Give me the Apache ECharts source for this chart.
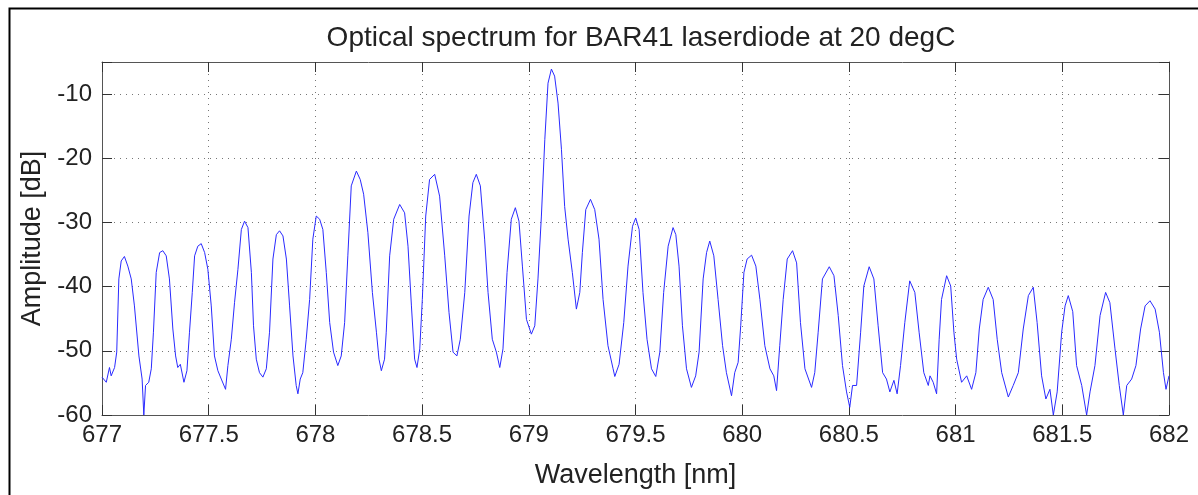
<!DOCTYPE html>
<html>
<head>
<meta charset="utf-8">
<title>Optical spectrum</title>
<script src="https://cdn.jsdelivr.net/npm/echarts@6/dist/echarts.min.js"></script>
<style>
  html, body { margin: 0; padding: 0; background: #fff; }
  #spectrumChart { width: 1198px; height: 495px; }
</style>
</head>
<body>
<div id="spectrumChart"></div>
<script>
// wavelength [nm]
var wavelength = [
  677.000,677.020,677.035,677.043,677.059,677.069,677.079,677.090,677.105,677.121,
  677.137,677.152,677.173,677.188,677.196,677.204,677.219,677.231,677.241,677.254,
  677.270,677.285,677.301,677.316,677.332,677.345,677.355,677.367,677.384,677.398,
  677.410,677.423,677.434,677.449,677.465,677.481,677.496,677.512,677.527,677.543,
  677.559,677.579,677.590,677.606,677.621,677.637,677.653,677.668,677.684,677.700,
  677.710,677.723,677.738,677.754,677.770,677.785,677.801,677.817,677.832,677.848,
  677.864,677.879,677.895,677.910,677.918,677.929,677.941,677.957,677.973,677.988,
  678.004,678.020,678.035,678.051,678.067,678.085,678.105,678.121,678.137,678.152,
  678.168,678.192,678.210,678.226,678.246,678.267,678.286,678.298,678.309,678.324,
  678.332,678.348,678.367,678.395,678.418,678.434,678.450,678.465,678.476,678.489,
  678.501,678.517,678.535,678.559,678.582,678.606,678.626,678.645,678.663,678.679,
  678.700,678.720,678.738,678.754,678.773,678.793,678.809,678.829,678.848,678.864,
  678.879,678.898,678.918,678.937,678.954,678.970,678.989,679.012,679.028,679.043,
  679.059,679.075,679.090,679.106,679.121,679.137,679.153,679.168,679.184,679.204,
  679.223,679.239,679.251,679.267,679.289,679.309,679.329,679.348,679.371,679.395,
  679.403,679.423,679.445,679.465,679.486,679.501,679.517,679.535,679.554,679.575,
  679.595,679.614,679.632,679.653,679.676,679.689,679.704,679.720,679.739,679.762,
  679.782,679.798,679.817,679.833,679.848,679.867,679.887,679.908,679.926,679.950,
  679.965,679.981,679.993,680.008,680.023,680.044,680.064,680.083,680.106,680.130,
  680.148,680.161,680.176,680.192,680.211,680.236,680.255,680.273,680.294,680.325,
  680.340,680.356,680.376,680.408,680.430,680.450,680.470,680.489,680.504,680.517,
  680.536,680.555,680.570,680.595,680.617,680.637,680.658,680.676,680.692,680.711,
  680.726,680.742,680.762,680.785,680.809,680.829,680.851,680.872,680.880,680.895,
  680.911,680.923,680.934,680.958,680.977,680.992,681.005,681.028,681.052,681.075,
  681.095,681.111,681.129,681.153,681.176,681.195,681.216,681.247,681.270,681.294,
  681.317,681.341,681.364,681.382,681.403,681.423,681.442,681.458,681.476,681.497,
  681.513,681.528,681.549,681.567,681.591,681.614,681.630,681.653,681.677,681.703,
  681.723,681.747,681.767,681.786,681.802,681.825,681.845,681.867,681.888,681.911,
  681.935,681.955,681.974,681.986,682.000
];

// amplitude [dB]
var amplitude = [
  -54.1,-54.9,-52.6,-53.9,-52.6,-50.2,-38.8,-36.0,-35.3,-36.8,
  -38.8,-43.0,-50.8,-54.4,-60.0,-55.4,-54.9,-52.8,-47.1,-37.8,
  -34.7,-34.4,-35.2,-38.8,-46.6,-50.8,-52.6,-52.1,-54.9,-53.1,
  -47.1,-40.9,-35.2,-33.7,-33.3,-34.7,-37.3,-43.0,-50.8,-53.1,
  -54.4,-56.0,-52.3,-48.2,-42.5,-37.3,-31.1,-29.8,-30.8,-37.8,
  -46.1,-51.3,-53.4,-54.1,-52.8,-47.1,-35.7,-31.9,-31.3,-32.1,
  -35.7,-43.0,-50.8,-55.4,-56.7,-54.4,-53.4,-48.2,-42.0,-32.6,
  -29.0,-29.5,-31.1,-37.8,-45.6,-50.2,-52.3,-50.8,-45.6,-35.2,
  -24.3,-22.0,-23.3,-25.6,-31.6,-40.9,-47.1,-51.3,-53.1,-51.3,
  -47.1,-35.2,-29.5,-27.2,-28.5,-33.7,-43.0,-51.3,-52.6,-49.7,
  -42.0,-29.0,-23.3,-22.5,-25.9,-35.2,-44.0,-50.2,-50.8,-48.2,
  -40.9,-29.0,-23.8,-22.5,-24.3,-32.6,-40.9,-48.2,-50.2,-52.6,
  -49.7,-37.8,-29.5,-27.7,-29.8,-36.8,-45.1,-47.4,-46.1,-38.8,
  -29.0,-17.1,-8.3,-6.1,-7.2,-11.4,-18.6,-27.5,-32.6,-37.8,
  -43.5,-40.9,-34.7,-28.0,-26.4,-28.0,-32.6,-42.0,-49.2,-52.8,
  -54.0,-52.1,-45.6,-36.8,-30.6,-29.3,-31.1,-40.9,-48.2,-52.8,
  -54.0,-50.2,-40.9,-33.7,-30.8,-31.9,-36.8,-46.1,-52.8,-55.7,
  -53.9,-50.2,-38.8,-34.7,-32.9,-35.2,-42.0,-49.2,-53.4,-57.0,
  -53.4,-51.8,-46.1,-37.8,-35.7,-35.1,-36.8,-42.0,-49.2,-52.8,
  -53.9,-56.2,-49.2,-42.0,-35.7,-34.4,-36.3,-45.6,-52.8,-55.7,
  -53.4,-47.1,-38.8,-36.9,-38.3,-44.5,-52.3,-56.4,-58.8,-55.4,
  -55.4,-47.1,-39.9,-36.9,-38.8,-46.1,-53.4,-54.4,-56.4,-54.6,
  -56.7,-52.3,-45.6,-39.1,-40.9,-47.1,-53.4,-55.4,-53.9,-54.9,
  -56.7,-48.2,-42.0,-38.3,-39.9,-47.1,-51.3,-54.9,-53.9,-56.0,
  -53.4,-46.6,-42.0,-40.1,-42.0,-48.2,-53.4,-57.2,-55.4,-53.4,
  -46.6,-41.4,-40.1,-45.6,-53.9,-57.5,-56.0,-60.0,-56.4,-47.1,
  -43.0,-41.4,-43.9,-52.3,-55.4,-60.0,-56.4,-52.3,-44.5,-40.9,
  -42.5,-49.7,-55.4,-60.0,-55.4,-54.4,-52.3,-46.6,-43.0,-42.2,
  -43.5,-47.1,-53.4,-56.0,-53.9
];

// axis ranges
var xRange = [677, 682];
var xStep = 0.5;
var yRange = [-60, -5];
var yStep = 10;

var font = '"Liberation Sans", Arial, Helvetica, sans-serif';
var boxColor = '#555';

init();

function init() {
  var chart = echarts.init(document.getElementById('spectrumChart'));

  var points = [];
  for (var i = 0; i < wavelength.length; i++) {
    points.push([wavelength[i], amplitude[i]]);
  }

  var gridDots = { show: true, lineStyle: { color: '#777', width: 1, type: [1, 5] } };

  // top/right copies only draw the box line + inner ticks
  function boxX(pos, main) {
    return {
      type: 'value', position: pos, min: xRange[0], max: xRange[1], interval: xStep,
      name: main ? 'Wavelength [nm]' : '', nameLocation: 'middle', nameGap: 47,
      nameTextStyle: { fontFamily: font, fontSize: 27, color: '#222' },
      axisLine: { show: true, onZero: false, lineStyle: { color: boxColor, width: 1 } },
      axisTick: { show: true, inside: true, length: 10, lineStyle: { color: '#333' } },
      axisLabel: { show: main, margin: 8, fontFamily: font, fontSize: 24, color: '#222',
        formatter: function (v) { return String(Math.round(v * 10) / 10); } },
      splitLine: main ? gridDots : { show: false }
    };
  }
  function boxY(pos, main) {
    return {
      type: 'value', position: pos, min: yRange[0], max: yRange[1], interval: yStep,
      name: main ? 'Amplitude [dB]' : '', nameLocation: 'middle', nameGap: 49,
      nameTextStyle: { fontFamily: font, fontSize: 27, color: '#222' },
      axisLine: { show: true, onZero: false, lineStyle: { color: boxColor, width: 1 } },
      axisTick: { show: true, inside: true, length: 10, lineStyle: { color: '#333' } },
      axisLabel: { show: main, margin: 10, fontFamily: font, fontSize: 24, color: '#222',
        formatter: function (v) { return v % 10 === 0 ? String(v) : ''; } },
      splitLine: main ? gridDots : { show: false }
    };
  }

  chart.setOption({
    animation: false,
    backgroundColor: '#fff',
    title: {
      text: 'Optical spectrum for BAR41 laserdiode at 20 degC',
      left: 636, top: 19, textAlign: 'center',
      textStyle: { fontFamily: font, fontSize: 28, fontWeight: 'normal', color: '#222' }
    },
    grid: { left: 102, right: 29, top: 62, bottom: 80 },
    xAxis: [boxX('bottom', true), boxX('top', false)],
    yAxis: [boxY('left', true), boxY('right', false)],
    series: [
      {
        name: 'spectrum',
        type: 'line',
        xAxisIndex: 0,
        yAxisIndex: 0,
        data: points,
        showSymbol: false,
        clip: true,
        lineStyle: { color: '#2a2aff', width: 1 }
      }
    ],
    // outer frame of the figure
    graphic: [
      { type: 'rect', left: 7, top: 6, shape: { x: 0, y: 0, width: 1210, height: 510 },
        style: { fill: 'none', stroke: '#000', lineWidth: 2 }, silent: true }
    ]
  });
}
</script>
</body>
</html>
